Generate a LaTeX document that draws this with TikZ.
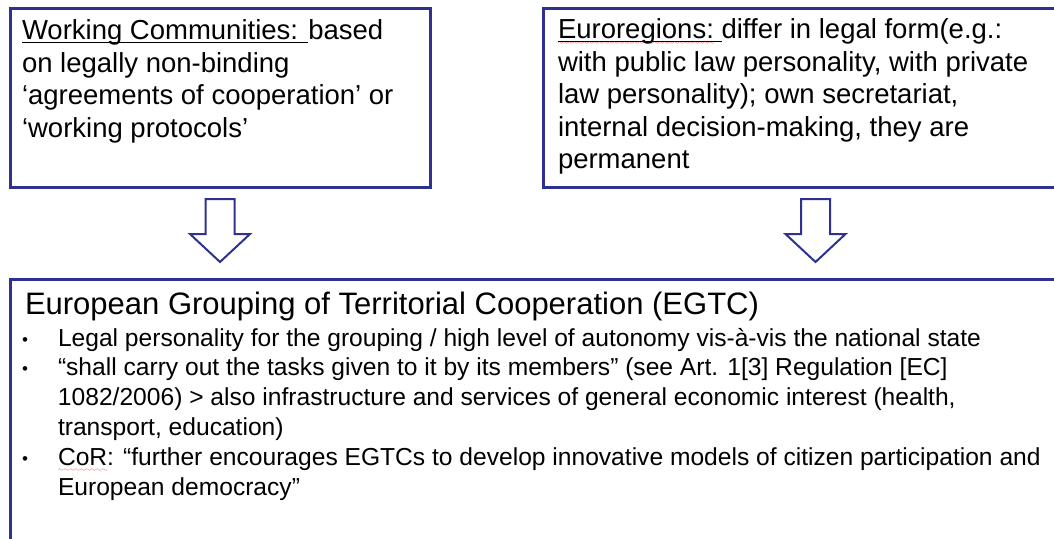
\documentclass[tikz,border=0pt]{standalone}
\usepackage{fontspec}
\setmainfont{Liberation Sans}
\usepackage{xcolor}
\usepackage{tikz}
\usetikzlibrary{positioning,shapes,arrows,shapes.arrows}
\definecolor{framenavy}{RGB}{46,49,146}
\font\wavefont=lasy6
\newsavebox\markbox
\newcommand\linedword[1]{\sbox\markbox{#1}\rlap{\rule[-3.5pt]{\wd\markbox}{1.3pt}}\usebox\markbox}
\newcommand\spellerr[1]{\sbox\markbox{#1}\rlap{\textcolor{red}{\raisebox{-6pt}{\hbox to\wd\markbox{\xleaders\hbox{\wavefont\char58}\hfil}}}}\usebox\markbox}
\newcommand\bul{\makebox[36pt][l]{\fontsize{17}{17}\selectfont\raisebox{1pt}{•}}}

\begin{document}
\begin{tikzpicture}[
    x=1pt, y=-1pt,
    frame/.style={draw=framenavy, line width=3pt, rectangle, outer sep=0pt, inner sep=0pt},
    txt/.style={anchor=north west, inner sep=0pt, outer sep=0pt, align=left, font=\fontsize{27.5}{32.5}\selectfont},
    downarrow/.style={draw=framenavy, line width=2pt, single arrow, shape border rotate=270, single arrow head extend=15.5pt, single arrow tip angle=94, minimum height=63pt, inner xsep=13.5pt, inner ysep=0pt, outer sep=0pt, anchor=tail}
]
    \useasboundingbox (0,0) rectangle (1054,538);
    \clip (0,0) rectangle (1054,538);

    % Boxes
    \node[frame, minimum width=420pt, minimum height=179pt] (works) at (220,97.5) {};
    \node[frame, minimum width=544pt, minimum height=179pt, right=113.5pt of works] (eureg) {};
    \node[frame, minimum width=1090pt, minimum height=281pt, anchor=north west] (egtc) at ([yshift=-92pt]works.south west) {};

    % Texts
    \node[txt] (worktext) at ([shift={(12pt,-12pt)}]works.north west)
        {\linedword{Working Communities: }based\\
         on legally non-binding\\
         ‘agreements of cooperation’ or\\
         ‘working protocols’};
    \node[txt] (eurtext) at ([shift={(14.5pt,-11pt)}]eureg.north west)
        {\linedword{\spellerr{Euroregions:} }differ in legal form(e.g.:\\
         with public law personality, with private\\
         law personality); own secretariat,\\
         internal decision-making, they are\\
         permanent};
    \node[txt, font=\fontsize{31}{35}\selectfont] (egtctitle) at ([shift={(15pt,-13pt)}]egtc.north west)
        {European Grouping of Territorial Cooperation (EGTC)};
    \node[txt, font=\fontsize{24.6}{29.8}\selectfont] (egtclist) at ([shift={(12pt,-49pt)}]egtc.north west)
        {\bul Legal personality for the grouping / high level of autonomy vis-à-vis the national state\\
         \bul “shall carry out the tasks given to it by its members” (see Art. 1[3] Regulation [EC]\\
         \hspace*{36pt}1082/2006) > also infrastructure and services of general economic interest (health,\\
         \hspace*{36pt}transport, education)\\
         \bul \spellerr{CoR}: “further encourages EGTCs to develop innovative models of citizen participation and\\
         \hspace*{36pt}European democracy”};

    % Arrows
    \node[downarrow] (arrleft) at ([yshift=-12pt]works.south) {};
    \node[downarrow] (arrright) at ([yshift=-12pt]eureg.south) {};
\end{tikzpicture}
\end{document}
